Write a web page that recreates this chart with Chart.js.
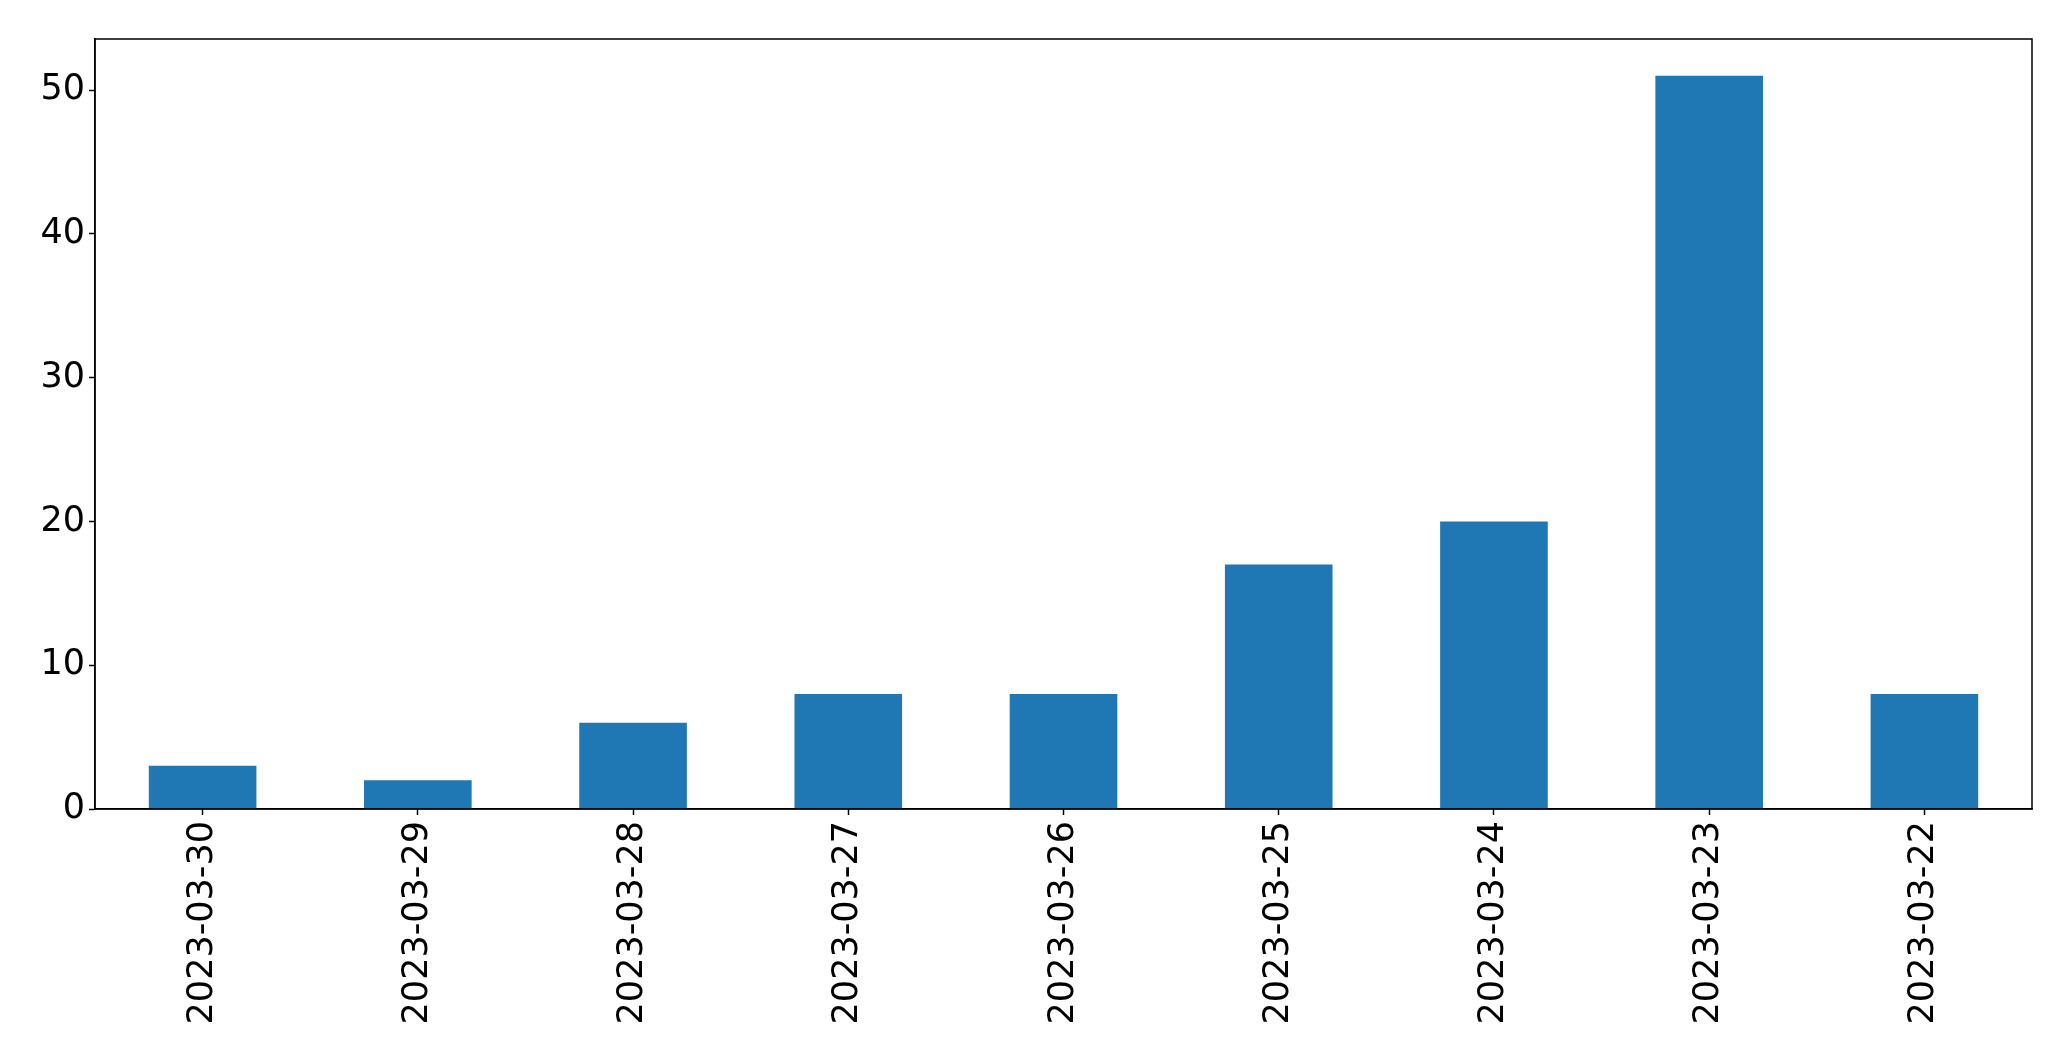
<!DOCTYPE html>
<html>
<head>
<meta charset="utf-8">
<script src="https://cdn.jsdelivr.net/npm/chart.js@4"></script>
<style>
    body { margin: 0; background: #ffffff; }
    #chart { display: block; }
</style>
</head>
<body>
<canvas id="chart" width="2071" height="1061"></canvas>
<script>
// Data
const dates = ['2023-03-30', '2023-03-29', '2023-03-28', '2023-03-27', '2023-03-26', '2023-03-25', '2023-03-24', '2023-03-23', '2023-03-22'];
const counts = [3, 2, 6, 8, 8, 17, 20, 51, 8];
const yTicks = [0, 10, 20, 30, 40, 50];

const axisFont = { family: '"DejaVu Sans", sans-serif', size: 35 };

// draws the full box around the plot area like matplotlib
const frameBox = {
    id: 'frameBox',
    afterDraw(chart) {
        const { ctx, chartArea } = chart;
        ctx.save();
        ctx.strokeStyle = '#000000';
        ctx.lineWidth = 1.5;
        ctx.strokeRect(chartArea.left, chartArea.top, chartArea.right - chartArea.left, chartArea.bottom - chartArea.top);
        ctx.restore();
    }
};

new Chart(document.getElementById('chart'), {
    type: 'bar',
    data: {
        labels: dates,
        datasets: [{
            data: counts,
            backgroundColor: '#1f77b4',
            borderWidth: 0,
            categoryPercentage: 0.5,
            barPercentage: 1.0
        }]
    },
    options: {
        responsive: false,
        animation: false,
        layout: { padding: { left: 0, top: 39, right: 39, bottom: 0 } },
        plugins: {
            legend: { display: false },
            tooltip: { enabled: false }
        },
        scales: {
            x: {
                grid: { offset: false, drawOnChartArea: false, drawTicks: true, tickLength: 6, tickColor: '#000000', tickWidth: 1.5 },
                border: { display: true, color: '#000000', width: 1.5 },
                ticks: { color: '#000000', font: axisFont, minRotation: 90, maxRotation: 90, padding: 6, autoSkip: false },
                afterFit(scale) { scale.height = 252; }
            },
            y: {
                min: 0,
                max: 53.55,
                grid: { drawOnChartArea: false, drawTicks: true, tickLength: 6, tickColor: '#000000', tickWidth: 1.5 },
                border: { display: true, color: '#000000', width: 1.5 },
                ticks: { color: '#000000', font: axisFont, padding: 4 },
                afterBuildTicks(scale) { scale.ticks = yTicks.map(v => ({ value: v })); },
                afterFit(scale) { scale.width = 95; }
            }
        }
    },
    plugins: [frameBox]
});
</script>
</body>
</html>
